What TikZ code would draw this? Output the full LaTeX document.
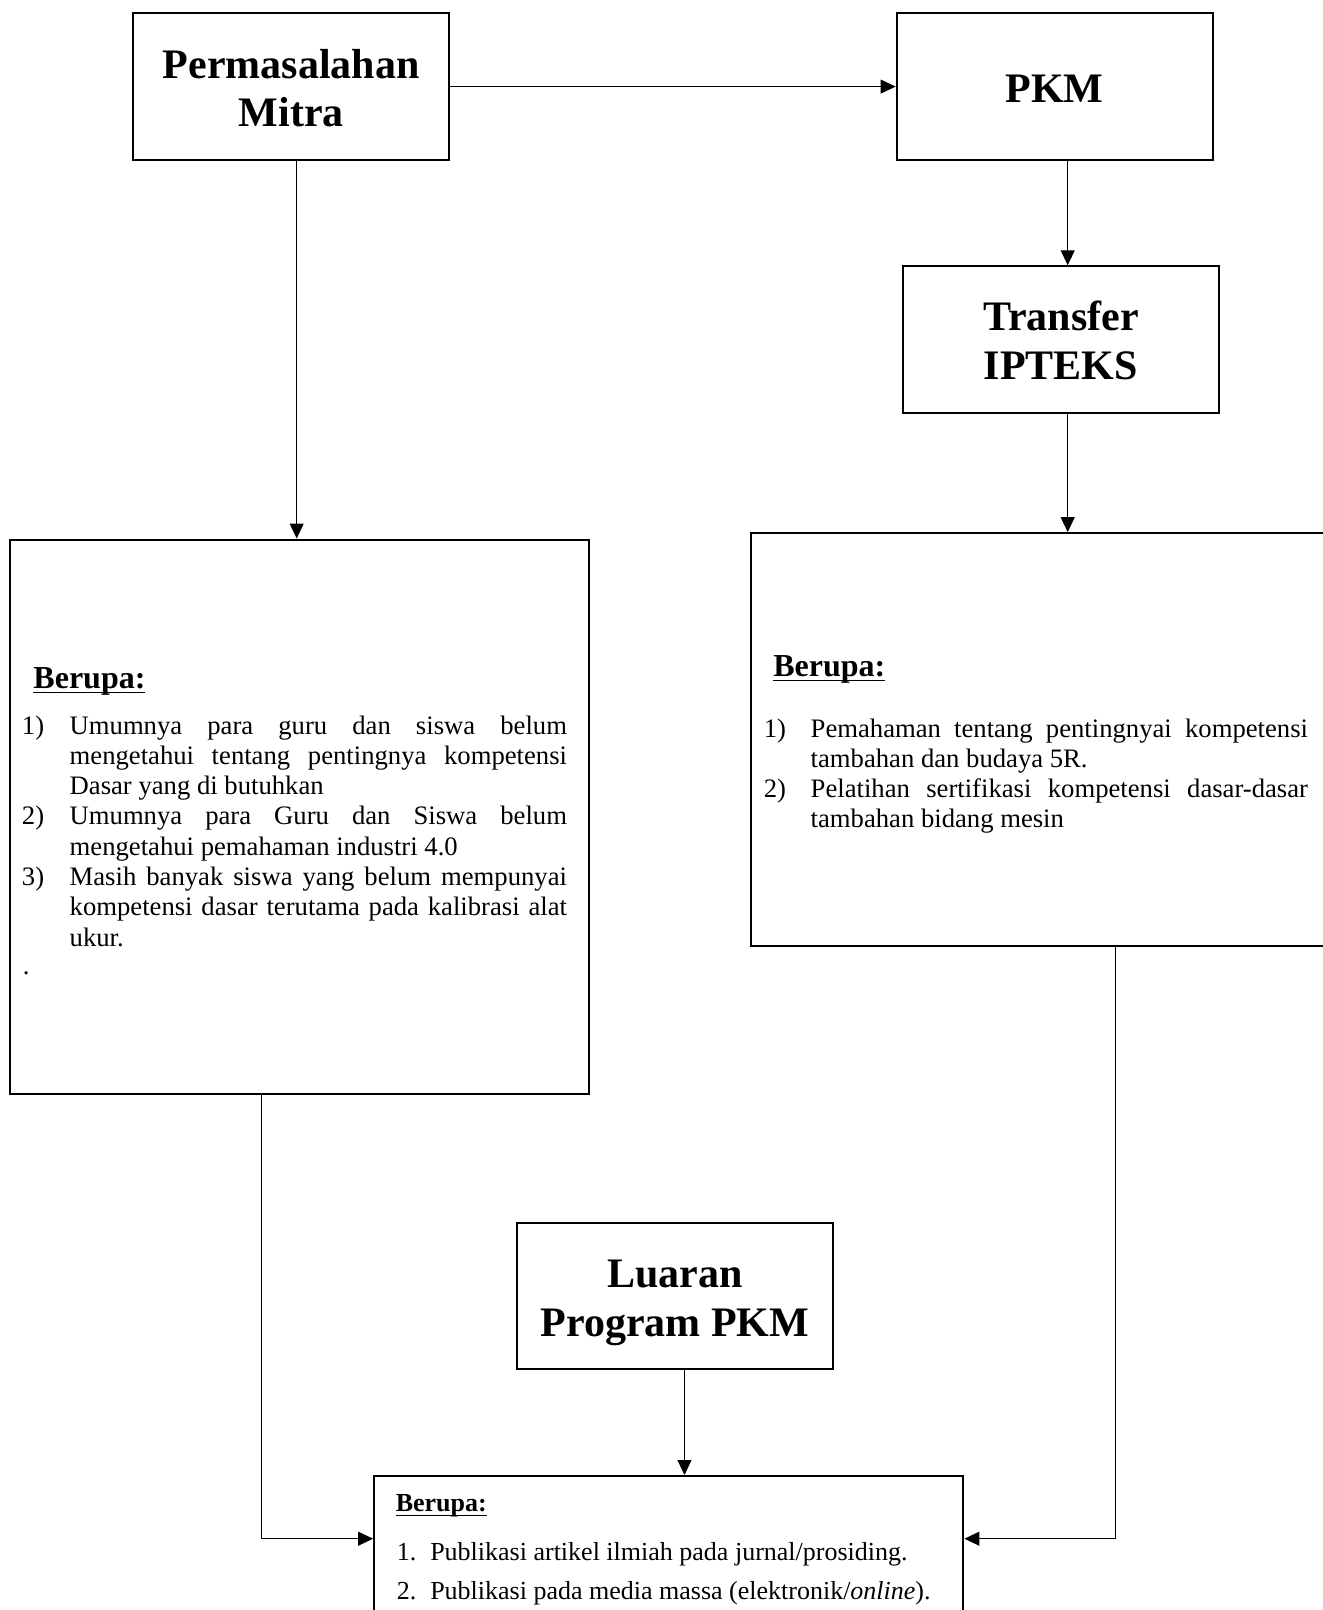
\documentclass[tikz,border=0pt]{standalone}
\usepackage{fontspec}
\setmainfont{Liberation Serif}
\usetikzlibrary{arrows.meta,calc}
\newcommand{\myul}[1]{\setbox0=\hbox{#1}\rlap{\vrule height -0.11em depth 0.17em width \wd0}\box0}
\begin{document}
\begin{tikzpicture}[x=0.75pt,y=-0.75pt,
  titlebox/.style={draw, line width=1.5pt, inner sep=0pt, minimum width=237pt, minimum height=110pt},
  titletext/.style={inner sep=0pt, align=center, font=\bfseries\fontsize{31.5}{36.4}\selectfont},
  bigbox/.style={draw, line width=1.5pt, inner sep=0pt},
  conn/.style={line width=0.75pt, -{Triangle[length=11.25pt,width=10.5pt]}},
  ln/.style={anchor=base west, inner sep=0pt, font=\fontsize{20}{24}\selectfont},
  lnb/.style={anchor=base west, inner sep=0pt, font=\fontsize{19.5}{24}\selectfont},
  hd/.style={anchor=base west, inner sep=0pt, font=\bfseries\fontsize{24}{28}\selectfont},
  hdb/.style={anchor=base west, inner sep=0pt, font=\bfseries\fontsize{19.5}{24}\selectfont}]
\clip (0,0) rectangle (1323,1610);
\fill[white] (0,0) rectangle (1323,1610);

% title boxes
\node[titlebox] (perm) at (291.3,86.6) {};
\node[titlebox] (pkm) at (1054.6,86.6) {};
\node[titlebox] (tr) at (1060.9,339.6) {};
\node[titlebox] (lu) at (674.9,1296) {};
\node[titletext, yshift=-1.2pt] (permt) at (perm.center) {Permasalahan\\Mitra};
\node[titletext, yshift=-1.5pt] (pkmt) at (pkm.center) {PKM};
\node[titletext, yshift=-0.8pt] (trt) at (tr.center) {Transfer\\IPTEKS};
\node[titletext, yshift=-5.3pt] (lut) at (lu.center) {Luaran\\Program PKM};

% big boxes
\node[bigbox, minimum width=433.7pt, minimum height=415.5pt] (lbox) at (299.5,816.5) {};
\node[bigbox, minimum width=433.7pt, minimum height=310pt] (rbox) at (1040,739.8) {};
\node[bigbox, minimum width=442pt, minimum height=150pt] (bbox) at (668.75,1576) {};

% connector helpers
\coordinate (xa) at (296.7,0);
\coordinate (xb) at (1067.7,0);
\coordinate (xc) at (261,0);
\coordinate (xd) at (1115,0);
\coordinate (xe) at (684.5,0);
\coordinate (yj) at (0,1538.7);

\draw[conn] (perm.east) -- (pkm.west);
\draw[conn] (perm.south -| xa) -- (lbox.north -| xa);
\draw[conn] (pkm.south -| xb) -- (tr.north -| xb);
\draw[conn] (tr.south -| xb) -- (rbox.north -| xb);
\draw[conn] (lbox.south -| xc) |- (bbox.west |- yj);
\draw[conn] (rbox.south -| xd) |- (bbox.east |- yj);
\draw[conn] (lu.south -| xe) -- (bbox.north -| xe);

% left box text
\node[hd] (lhd) at (33.2,688) {\myul{Berupa:}};
\node[ln] (ln1) at (21.7,734) {1)};
\node[ln] (ln2) at (21.7,824.9) {2)};
\node[ln] (ln3) at (21.7,885.5) {3)};
\node[ln] (lt1) at (69.4,734) {\makebox[373pt][s]{Umumnya para guru dan siswa belum}};
\node[ln] (lt2) at (69.4,764.3) {\makebox[373pt][s]{mengetahui tentang pentingnya kompetensi}};
\node[ln] (lt3) at (69.4,794.6) {Dasar yang di butuhkan};
\node[ln] (lt4) at (69.4,824.9) {\makebox[373pt][s]{Umumnya para Guru dan Siswa belum}};
\node[ln] (lt5) at (69.4,855.2) {mengetahui pemahaman industri 4.0};
\node[ln] (lt6) at (69.4,885.5) {\makebox[373pt][s]{Masih banyak siswa yang belum mempunyai}};
\node[ln] (lt7) at (69.4,915.8) {\makebox[373pt][s]{kompetensi dasar terutama pada kalibrasi alat}};
\node[ln] (lt8) at (69.4,946.1) {ukur.};
\node[ln] (ldot) at (22.7,974) {.};

% right box text
\node[hd] (rhd) at (773,676) {\myul{Berupa:}};
\node[ln] (rn1) at (763.5,737) {1)};
\node[ln] (rn2) at (763.5,797) {2)};
\node[ln] (rt1) at (810.4,737) {\makebox[373pt][s]{Pemahaman tentang pentingnyai kompetensi}};
\node[ln] (rt2) at (810.4,767) {tambahan dan budaya 5R.};
\node[ln] (rt3) at (810.4,797) {\makebox[373pt][s]{Pelatihan sertifikasi kompetensi dasar-dasar}};
\node[ln] (rt4) at (810.4,827) {tambahan bidang mesin};

% bottom box text
\node[hdb] (bhd) at (395.5,1511.7) {\myul{Berupa:}};
\node[lnb] (bn1) at (396.7,1560) {1.};
\node[lnb] (bn2) at (396.7,1599) {2.};
\node[lnb] (bt1) at (430,1560) {Publikasi artikel ilmiah pada jurnal/prosiding.};
\node[lnb] (bt2) at (430,1599) {Publikasi pada media massa (elektronik/\emph{online}).};
\end{tikzpicture}
\end{document}
